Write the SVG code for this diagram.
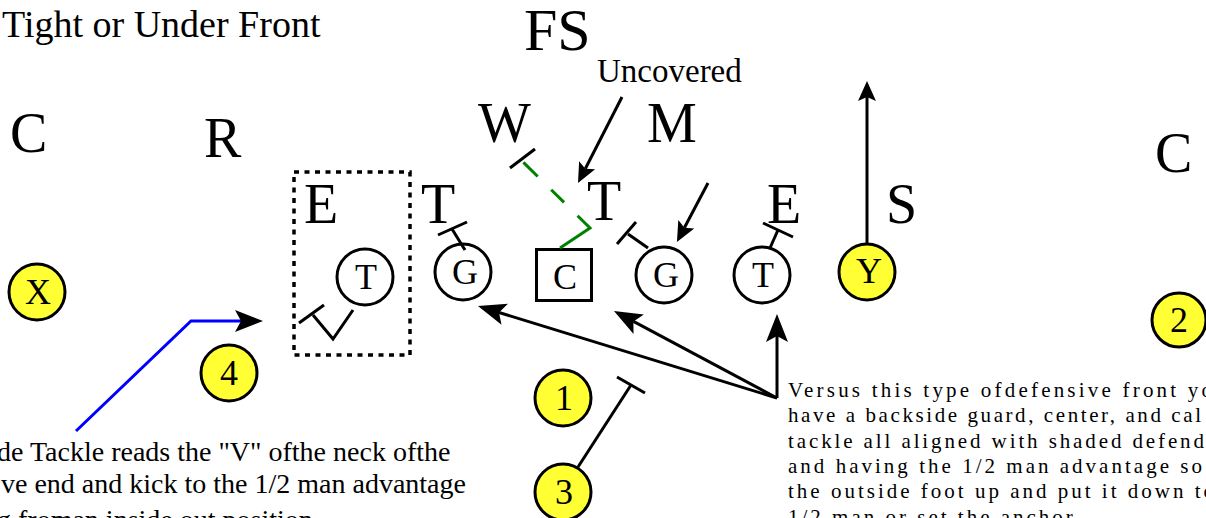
<svg xmlns="http://www.w3.org/2000/svg" width="1206" height="518" viewBox="0 0 1206 518">
<style>
text{font-family:"Liberation Serif","Times New Roman",serif;fill:#000}
.big{font-size:56px}
.lbl{font-size:36px;text-anchor:middle}
.yc{fill:#ffff33;stroke:#000;stroke-width:3}
.wc{fill:#fff;stroke:#000;stroke-width:3}
.ln{fill:none;stroke:#000;stroke-width:3}
.blk{fill:none;stroke:#000;stroke-width:3;stroke-linecap:butt}
.note{font-size:21px}
.note2{font-size:28px}
</style>
<defs>
<marker id="ahL" viewBox="0 -12 30 24" markerWidth="30" markerHeight="24" refX="6" refY="0" orient="auto" markerUnits="userSpaceOnUse"><path d="M0,-11 L28,0 L0,11 L6,0 Z" fill="#000"/></marker>
<marker id="ahS" viewBox="0 -10 22 20" markerWidth="22" markerHeight="20" refX="4" refY="0" orient="auto" markerUnits="userSpaceOnUse"><path d="M0,-9 L20,0 L0,9 L4,0 Z" fill="#000"/></marker>
</defs>
<rect width="1206" height="518" fill="#fff"/>

<text x="2" y="37" font-size="38">Tight or Under Front</text>

<g id="defense-labels">
<text x="524" y="50" font-size="60">FS</text>
<text x="597" y="82" font-size="33">Uncovered</text>
<text class="big" x="10" y="152">C</text>
<text class="big" x="204" y="157">R</text>
<text class="big" x="478" y="142">W</text>
<text class="big" x="647" y="142">M</text>
<text class="big" x="304" y="223">E</text>
<text class="big" x="421" y="223">T</text>
<text class="big" x="587" y="220">T</text>
<text class="big" x="767" y="223">E</text>
<text class="big" x="886" y="223">S</text>
<text class="big" x="1155" y="172">C</text>
</g>

<g id="dotted-box"><rect x="294" y="172" width="116" height="183" fill="none" stroke="#000" stroke-width="3.5" stroke-dasharray="5 5.5"/></g>

<g id="node-x"><circle class="yc" cx="37" cy="292" r="28"/><text class="lbl" x="38" y="304">X</text></g>
<g id="node-4"><circle class="yc" cx="229" cy="373" r="28"/><text class="lbl" x="229" y="385">4</text></g>
<g id="node-lt"><circle class="wc" cx="365" cy="277" r="28"/><text class="lbl" x="366" y="289">T</text></g>
<g id="node-lg"><circle class="wc" cx="463" cy="272" r="28"/><text class="lbl" x="465" y="284">G</text></g>
<g id="node-c"><rect class="wc" x="536.5" y="249.5" width="55" height="51"/><text class="lbl" x="565" y="289">C</text></g>
<g id="node-rg"><circle class="wc" cx="664" cy="275" r="28"/><text class="lbl" x="666" y="287">G</text></g>
<g id="node-rt"><circle class="wc" cx="762" cy="275" r="28"/><text class="lbl" x="763" y="287">T</text></g>
<g id="node-y"><circle class="yc" cx="867" cy="272" r="28"/><text class="lbl" x="869" y="283">Y</text></g>
<g id="node-1"><circle class="yc" cx="563" cy="398" r="28"/><text class="lbl" x="564" y="410">1</text></g>
<g id="node-3"><circle class="yc" cx="563" cy="492" r="28"/><text class="lbl" x="564" y="504">3</text></g>
<g id="node-2"><circle class="yc" cx="1179" cy="320" r="27"/><text class="lbl" x="1179" y="332">2</text></g>

<g id="connectors">
<polyline class="blk" points="353,310 333,339 313,315"/>
<line class="blk" x1="299" y1="323" x2="324" y2="305"/>
<line class="blk" x1="465" y1="250" x2="452" y2="229"/>
<line class="blk" x1="438" y1="235" x2="467" y2="222"/>
<polyline points="560,248 590,228 523,162" fill="none" stroke="#008000" stroke-width="3" stroke-dasharray="53.5 19 18 19 20"/>
<line class="blk" x1="510" y1="168" x2="535" y2="149"/>
<line class="blk" x1="648" y1="248" x2="628" y2="234"/>
<line class="blk" x1="617" y1="244" x2="636" y2="222"/>
<line class="blk" x1="770" y1="248" x2="778" y2="230"/>
<line class="blk" x1="763" y1="223" x2="793" y2="237"/>
<line class="blk" x1="578" y1="467" x2="631" y2="385"/>
<line class="blk" x1="617" y1="377" x2="645" y2="393"/>
<line class="ln" x1="622" y1="97" x2="585.3" y2="168.8" marker-end="url(#ahS)"/>
<line class="ln" x1="708" y1="183" x2="684.4" y2="227.8" marker-end="url(#ahS)"/>
<line class="ln" x1="867" y1="244" x2="867" y2="97" marker-end="url(#ahS)"/>
<line class="ln" x1="777" y1="398" x2="777" y2="336" marker-end="url(#ahL)"/>
<line class="ln" x1="777" y1="398" x2="633.4" y2="321.4" marker-end="url(#ahL)"/>
<line class="ln" x1="777" y1="398" x2="499" y2="312.5" marker-end="url(#ahL)"/>
<polyline points="76,431 191,321 241,321" fill="none" stroke="#0000ff" stroke-width="3" marker-end="url(#ahL)"/>
</g>

<g id="notes">
<text class="note2" x="-3" y="461">de Tackle reads the "V" ofthe neck ofthe</text>
<text class="note2" x="1" y="493">ve end and kick to the 1/2 man advantage</text>
<text class="note2" x="-3" y="529">g froman inside out position</text>
<text class="note" x="788" y="397" textLength="424" lengthAdjust="spacing">Versus this type ofdefensive front  yo</text>
<text class="note" x="788" y="422.3" textLength="413" lengthAdjust="spacing">have a backside guard, center, and cal</text>
<text class="note" x="788" y="447.6" textLength="416" lengthAdjust="spacing">tackle all aligned with shaded defend</text>
<text class="note" x="788" y="472.9" textLength="414" lengthAdjust="spacing">and having the 1/2 man advantage so</text>
<text class="note" x="788" y="498.2" textLength="426" lengthAdjust="spacing">the outside foot up and put it down to</text>
<text class="note" x="788" y="523.5" letter-spacing="3">1/2 man or set the anchor</text>
</g>
</svg>
